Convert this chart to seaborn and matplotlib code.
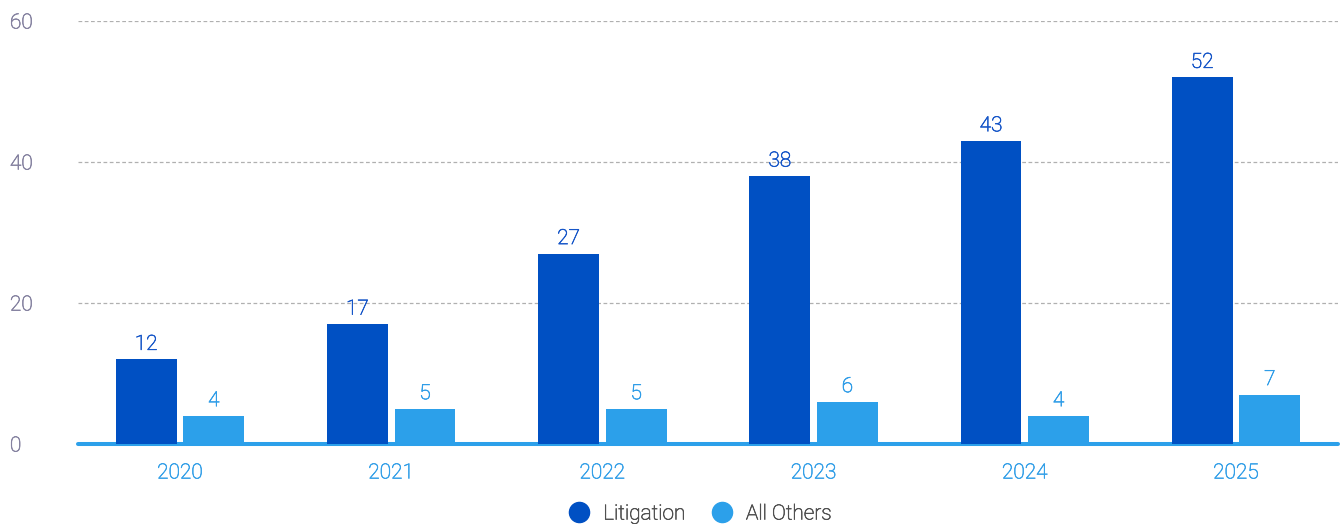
import matplotlib
matplotlib.use("Agg")
import matplotlib.pyplot as plt
import matplotlib.patheffects as pe
from matplotlib.lines import Line2D
import seaborn as sns
import pandas as pd

years = ["2020", "2021", "2022", "2023", "2024", "2025"]
litigation = [12, 17, 27, 38, 43, 52]
all_others = [4, 5, 5, 6, 4, 7]
series_names = ["Litigation", "All Others"]
y_ticks = [0, 20, 40, 60]

dark_blue = "#0050c3"
light_blue = "#2ca0ea"


def thicken(text, color):
    # light weight strokes with a hairline outline in the same colour
    text.set_path_effects([pe.withStroke(linewidth=0.45, foreground=color)])


df = pd.DataFrame({
    "year": years * 2,
    "value": litigation + all_others,
    "series": [series_names[0]] * len(years) + [series_names[1]] * len(years),
})

sns.set_theme(style="white")
plt.rcParams["font.family"] = ["Roboto", "DejaVu Sans"]
plt.rcParams["font.weight"] = "light"

fig = plt.figure(figsize=(13.4, 5.24), dpi=100)
ax = fig.add_axes([78 / 1340, 80 / 524, 1260 / 1340, 423 / 524])

sns.barplot(data=df, x="year", y="value", hue="series", order=years,
            hue_order=series_names, palette=[dark_blue, light_blue],
            width=0.64, gap=0.1, saturation=1, legend=False, ax=ax,
            linewidth=0, zorder=3)

label_colors = ["#1656c8", "#2f9de8"]
for container, col in zip(ax.containers, label_colors):
    texts = ax.bar_label(container, labels=[f"{v:g}" for v in container.datavalues],
                         padding=4, color=col, fontsize=15, fontweight="light")
    for t in texts:
        thicken(t, col)

ax.set_ylim(0, 60)
ax.set_xlim(-0.483, 5.483)
ax.set_yticks(y_ticks)
ax.set_yticklabels([str(t) for t in y_ticks])
for t in y_ticks[1:]:
    ax.axhline(t, color="#b0b0b0", lw=0.9, ls=(0, (3, 2)), zorder=1)
ax.axhline(0, color=light_blue, lw=2.9, zorder=2.5, clip_on=False)

for s in ax.spines.values():
    s.set_visible(False)
ytick_color = "#8582a0"
xtick_color = "#35a0e8"
ax.tick_params(axis="y", length=0, pad=49, labelsize=15, labelcolor=ytick_color)
ax.tick_params(axis="x", length=0, pad=14, labelsize=15, labelcolor=xtick_color)
for lab in ax.get_yticklabels():
    lab.set_horizontalalignment("left")
    thicken(lab, ytick_color)
for lab in ax.get_xticklabels():
    thicken(lab, xtick_color)
ax.set_xlabel("")
ax.set_ylabel("")

legend_color = "#505050"
handles = [Line2D([], [], marker="o", ls="", markersize=14.5, color=c)
           for c in [dark_blue, light_blue]]
leg = fig.legend(handles, series_names, loc="center", bbox_to_anchor=(695 / 1340, 1 - 514 / 524),
                 ncol=2, frameon=False, fontsize=15, labelcolor=legend_color,
                 handletextpad=0.15, columnspacing=0.75)
for t in leg.get_texts():
    thicken(t, legend_color)

fig.savefig("out.png", dpi=100)
